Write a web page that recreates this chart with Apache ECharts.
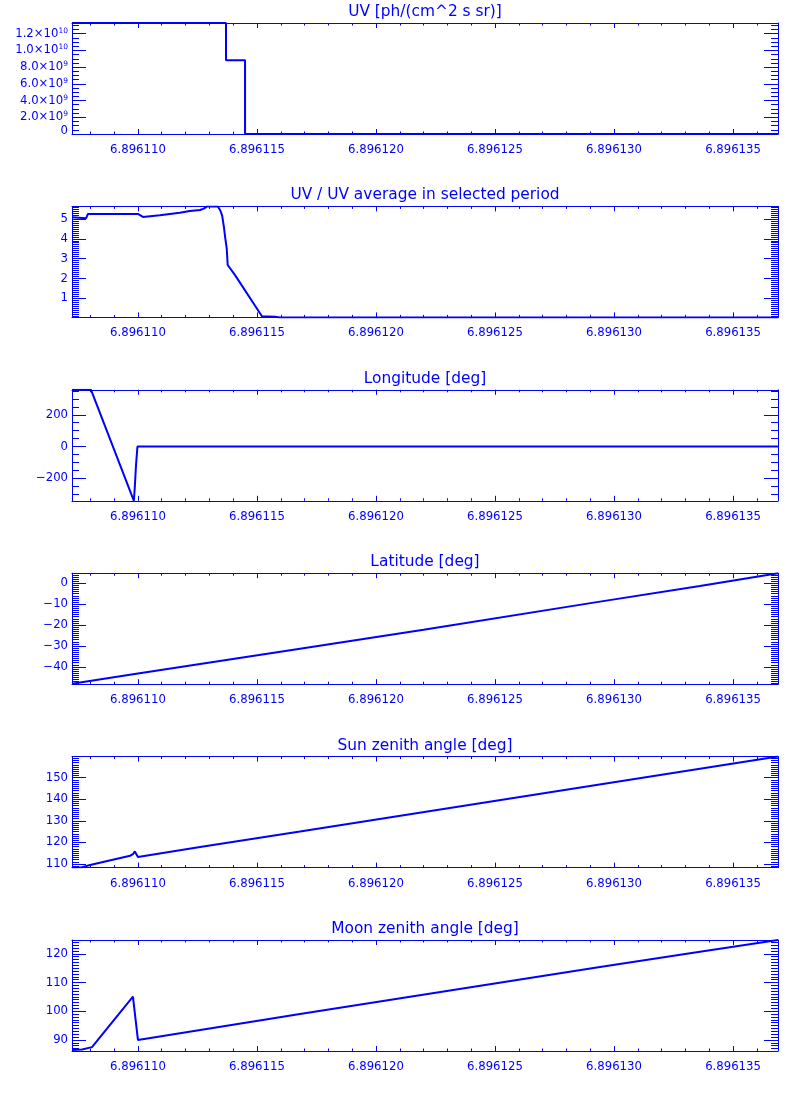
<!DOCTYPE html>
<html><head><meta charset="utf-8">
<script src="https://cdn.jsdelivr.net/npm/echarts@6/dist/echarts.min.js"></script>
<style>html,body{margin:0;padding:0;background:#fff}#c{width:800px;height:1100px}</style>
</head><body><div id="c"></div>
<script>
// ---- x axis (x = X_BASE + u * 1e-6) ----
const X_BASE = 6.896;
const X_MIN = 107.23, X_MAX = 136.89;
const xMajorTicks = [110, 115, 120, 125, 130, 135];
const xTickLabels = ['6.896110', '6.896115', '6.896120', '6.896125', '6.896130', '6.896135'];

const titles = [
  'UV [ph/(cm^2 s sr)]',
  'UV / UV average in selected period',
  'Longitude [deg]',
  'Latitude [deg]',
  'Sun zenith angle [deg]',
  'Moon zenith angle [deg]'
];

// ---- Panel 1: UV (step plot) ----
const uvX = [107.23, 113.70, 114.50, 136.89];
const uvY = [1.328e10, 8.81e9, 0, 0];
const uvRange = [0, 1.328e10];
const uvTicks = [0, 2e9, 4e9, 6e9, 8e9, 1e10, 1.2e10];
const uvTickLabels = ['{z|0}', '2.0×10{s|9}', '4.0×10{s|9}', '6.0×10{s|9}', '8.0×10{s|9}', '1.0×10{s|10}', '1.2×10{s|10}'];

// ---- Panel 2: UV ratio ----
const ratioX = [107.23, 107.82, 107.90, 110.00, 110.21, 110.92, 111.76, 112.18, 112.61, 112.77, 112.90, 113.36, 113.47, 113.54, 113.61, 113.67, 113.73, 113.77, 114.08, 115.21, 115.76, 115.97, 136.89];
const ratioY = [5.08, 5.03, 5.25, 5.25, 5.10, 5.18, 5.31, 5.40, 5.45, 5.52, 5.63, 5.63, 5.40, 5.15, 4.61, 4.02, 3.52, 2.68, 2.17, 0.10, 0.07, 0.04, 0.04];
const ratioRange = [0.04, 5.63];
const ratioTicks = [1, 2, 3, 4, 5];
const ratioTickLabels = ['1', '2', '3', '4', '5'];

// ---- Panel 3: Longitude ----
const lonX = [107.23, 108.03, 109.83, 109.87, 109.92, 109.98, 136.89];
const lonY = [358, 358, -343, -253, -116, 0, 0];
const lonRange = [-343, 358];
const lonTicks = [-200, 0, 200];
const lonTickLabels = ['\u2212200', '0', '200'];

// ---- Panel 4: Latitude ----
const latX = [107.23, 110.00, 116.81, 122.00, 129.41, 133.61, 136.89];
const latY = [-48.1, -43.2, -31.3, -22.3, -8.8, -1.3, 4.8];
const latRange = [-48.3, 4.8];
const latTicks = [-40, -30, -20, -10, 0];
const latTickLabels = ['\u221240', '\u221230', '\u221220', '\u221210', '0'];

// ---- Panel 5: Sun zenith angle ----
const sunX = [107.23, 107.65, 107.99, 109.67, 109.79, 109.87, 110.00, 112.61, 116.81, 136.89];
const sunY = [108.3, 108.5, 109.5, 113.8, 114.5, 115.8, 113.2, 117.9, 125.0, 159.8];
const sunRange = [108.3, 159.8];
const sunTicks = [110, 120, 130, 140, 150];
const sunTickLabels = ['110', '120', '130', '140', '150'];

// ---- Panel 6: Moon zenith angle ----
const moonX = [107.23, 107.65, 108.07, 109.79, 110.00, 116.81, 129.41, 133.61, 136.89];
const moonY = [86.5, 86.7, 87.5, 105.1, 90.0, 99.0, 115.4, 120.7, 124.8];
const moonRange = [86.15, 124.8];
const moonTicks = [90, 100, 110, 120];
const moonTickLabels = ['90', '100', '110', '120'];

// ---------------------------------------------------------------
const C = '#0000ff';
const FONT = 'DejaVu Sans';
const zip = (xs, ys) => xs.map((x, i) => [x, ys[i]]);
function ticksBetween(lo, hi, step) {
  const out = [];
  const k0 = Math.ceil(lo / step - 1e-9), k1 = Math.floor(hi / step + 1e-9);
  for (let k = k0; k <= k1; k++) out.push(Math.round(k * step * 1e6) / 1e6);
  return out;
}
const panels = [
  { x: uvX, y: uvY, r: uvRange, t: uvTicks, l: uvTickLabels, minor: 5e8, step: 'end' },
  { x: ratioX, y: ratioY, r: ratioRange, t: ratioTicks, l: ratioTickLabels, minor: 0.1 },
  { x: lonX, y: lonY, r: lonRange, t: lonTicks, l: lonTickLabels, minor: 50 },
  { x: latX, y: latY, r: latRange, t: latTicks, l: latTickLabels, minor: 1 },
  { x: sunX, y: sunY, r: sunRange, t: sunTicks, l: sunTickLabels, minor: 1 },
  { x: moonX, y: moonY, r: moonRange, t: moonTicks, l: moonTickLabels, minor: 1 }
];
const GRID_TOPS = [23, 206.4, 389.8, 573.2, 756.6, 940];
const GRID_H = 111, GRID_L = 72, GRID_W = 706;
const xMinorTicks = ticksBetween(X_MIN, X_MAX, 1);

const grid = [], xAxis = [], yAxis = [], series = [], title = [];
const lineStyle = { color: C, width: 1 };
panels.forEach((p, i) => {
  grid.push({ left: GRID_L, top: GRID_TOPS[i], width: GRID_W, height: GRID_H, outerBoundsMode: 'none', containLabel: false });
  title.push({
    text: titles[i], left: GRID_L + GRID_W / 2, top: GRID_TOPS[i] - 18.5, textAlign: 'center', padding: 0,
    textStyle: { color: C, fontFamily: FONT, fontSize: 15.4, fontWeight: 'normal' }
  });
  const base = { gridIndex: i, type: 'value', min: X_MIN, max: X_MAX, splitLine: { show: false }, minorTick: { show: false } };
  const xl = { show: false };
  xAxis.push(Object.assign({}, base, {
    position: 'bottom',
    axisLine: { show: true, onZero: false, lineStyle },
    axisTick: { show: true, inside: true, length: 5, customValues: xMajorTicks, lineStyle },
    axisLabel: { show: true, customValues: xMajorTicks, color: C, fontFamily: FONT, fontSize: 11.7, margin: 10,
      showMinLabel: true, showMaxLabel: true, hideOverlap: false,
      formatter: v => xTickLabels[xMajorTicks.indexOf(Math.round(v))] }
  }));
  xAxis.push(Object.assign({}, base, {
    position: 'bottom', axisLine: { show: false, onZero: false },
    axisTick: { show: true, inside: true, length: 2.5, customValues: xMinorTicks, lineStyle }, axisLabel: xl
  }));
  xAxis.push(Object.assign({}, base, {
    position: 'top', axisLine: { show: true, onZero: false, lineStyle },
    axisTick: { show: true, inside: true, length: 5, customValues: xMajorTicks, lineStyle }, axisLabel: xl
  }));
  xAxis.push(Object.assign({}, base, {
    position: 'top', axisLine: { show: false, onZero: false },
    axisTick: { show: true, inside: true, length: 2.5, customValues: xMinorTicks, lineStyle }, axisLabel: xl
  }));
  const ybase = { gridIndex: i, type: 'value', min: p.r[0], max: p.r[1], splitLine: { show: false }, minorTick: { show: false } };
  const yMinor = ticksBetween(p.r[0], p.r[1], p.minor);
  yAxis.push(Object.assign({}, ybase, {
    position: 'left',
    axisLine: { show: true, onZero: false, lineStyle },
    axisTick: { show: true, inside: true, length: 14, customValues: p.t, lineStyle },
    axisLabel: { show: true, customValues: p.t, color: C, fontFamily: FONT, fontSize: 11.7, margin: 4, lineHeight: 14,
      showMinLabel: true, showMaxLabel: true, hideOverlap: false,
      formatter: v => { let k = 0, best = Infinity; p.t.forEach((t, j) => { const d = Math.abs(t - v); if (d < best) { best = d; k = j; } }); return p.l[k]; },
      rich: {
        s: { fontSize: 7.5, lineHeight: 6, verticalAlign: 'top', color: C, fontFamily: FONT },
        z: { fontSize: 11.7, lineHeight: 14, padding: [0, 0, 7, 0], color: C, fontFamily: FONT }
      } }
  }));
  yAxis.push(Object.assign({}, ybase, {
    position: 'left', axisLine: { show: false, onZero: false },
    axisTick: { show: true, inside: true, length: 7, customValues: yMinor, lineStyle }, axisLabel: xl
  }));
  yAxis.push(Object.assign({}, ybase, {
    position: 'right', axisLine: { show: true, onZero: false, lineStyle },
    axisTick: { show: true, inside: true, length: 14, customValues: p.t, lineStyle }, axisLabel: xl
  }));
  yAxis.push(Object.assign({}, ybase, {
    position: 'right', axisLine: { show: false, onZero: false },
    axisTick: { show: true, inside: true, length: 7, customValues: yMinor, lineStyle }, axisLabel: xl
  }));
  series.push({
    type: 'line', xAxisIndex: 4 * i, yAxisIndex: 4 * i, data: zip(p.x, p.y),
    showSymbol: false, symbol: 'none', step: p.step || false, clip: true,
    lineStyle: { color: C, width: 2 }, itemStyle: { color: C }, silent: true
  });
});

const chart = echarts.init(document.getElementById('c'), null, { renderer: 'canvas' });
chart.setOption({ animation: false, backgroundColor: '#ffffff', title, grid, xAxis, yAxis, series, tooltip: { show: false } });
</script></body></html>
